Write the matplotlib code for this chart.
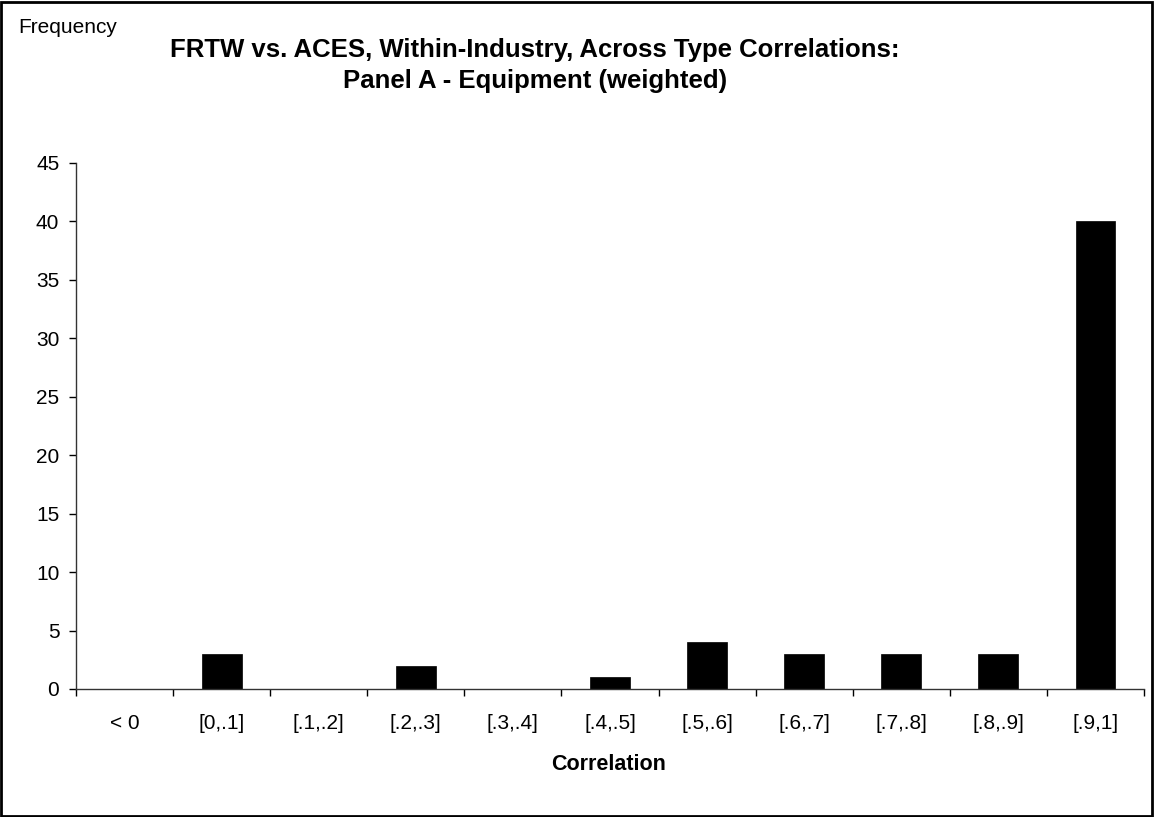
import numpy as np
import matplotlib.pyplot as plt
from matplotlib.patches import Rectangle

plt.rcParams['font.family'] = ['Liberation Sans', 'DejaVu Sans']

# correlation bins and counts per bin
bins = ['< 0', '[0,.1]', '[.1,.2]', '[.2,.3]', '[.3,.4]', '[.4,.5]',
        '[.5,.6]', '[.6,.7]', '[.7,.8]', '[.8,.9]', '[.9,1]']
counts = [0, 3, 0, 2, 0, 1, 4, 3, 3, 3, 40]
y_ticks = list(range(0, 50, 5))

W, H = 1154, 817
fig = plt.figure(figsize=(W / 100, H / 100), dpi=100)
ax = fig.add_axes([76 / W, 1 - 689 / H, (1144 - 76) / W, (689 - 163) / H])

x = np.arange(len(bins))
ax.bar(x, counts, width=0.41, color='black', edgecolor='black', linewidth=0.5)

ax.set_xlim(-0.5, len(bins) - 0.5)
ax.set_ylim(0, 45)
ax.set_yticks(y_ticks)
ax.tick_params(axis='y', direction='out', length=5, width=1, labelsize=15, pad=7)

# ticks sit on the bin boundaries, labels in the middle of each bin
ax.set_xticks(np.arange(len(bins) + 1) - 0.5)
ax.set_xticklabels([])
ax.set_xticks(x, minor=True)
ax.set_xticklabels(bins, minor=True, fontsize=15)
ax.tick_params(axis='x', which='major', direction='out', length=5, width=1)
ax.tick_params(axis='x', which='minor', length=0, pad=18)

for side in ['top', 'right']:
    ax.spines[side].set_visible(False)
for side in ['left', 'bottom']:
    ax.spines[side].set_color('#333333')
    ax.spines[side].set_linewidth(1)

fig.text(535 / W, 1 - 57 / H, 'FRTW vs. ACES, Within-Industry, Across Type Correlations:',
         ha='center', va='baseline', fontsize=18.5, fontweight='bold')
fig.text(535 / W, 1 - 88 / H, 'Panel A - Equipment (weighted)',
         ha='center', va='baseline', fontsize=18.5, fontweight='bold')
fig.text(18 / W, 1 - 33 / H, 'Frequency', ha='left', va='baseline', fontsize=15)
fig.text(609 / W, 1 - 770 / H, 'Correlation', ha='center', va='baseline',
         fontsize=15.5, fontweight='bold')

# outer frame around the whole chart
fig.patches.append(Rectangle((1 / W, 1 / H), 1 - 3 / W, 1 - 3 / H, transform=fig.transFigure,
                             fill=False, edgecolor='black', linewidth=2))

fig.savefig('out.png', dpi=100, facecolor='white')
